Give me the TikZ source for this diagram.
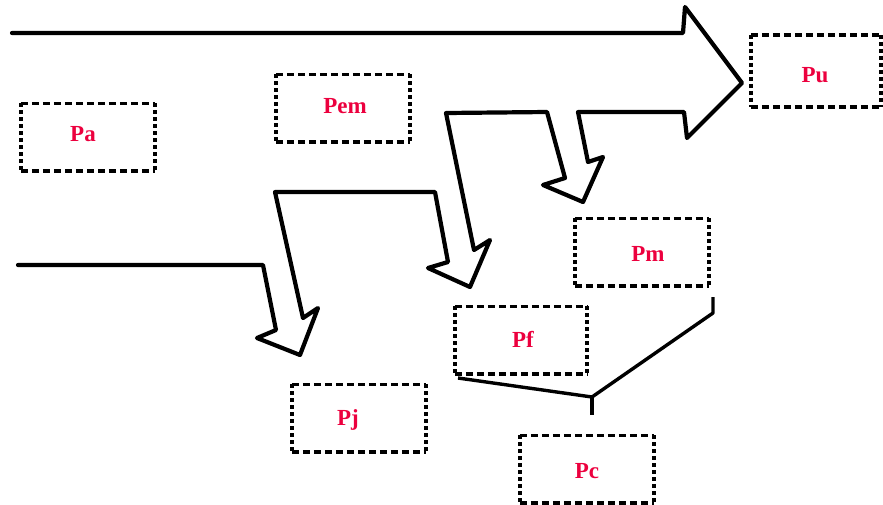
\documentclass[tikz,border=0pt]{standalone}
\usepackage{fontspec}
\setmainfont{Liberation Serif}
\definecolor{lblred}{RGB}{236,0,62}
\begin{document}
\begin{tikzpicture}[x=1pt,y=-1pt,
  box/.style={rectangle,draw=none,minimum width=134pt,minimum height=67pt,inner sep=0pt},
  lbl/.style={text=lblred,font=\bfseries\fontsize{23}{23}\selectfont,inner sep=0pt},
  hedge/.style={line width=3.6pt,dash pattern=on 7pt off 4pt},
  vedge/.style={line width=3.6pt,dash pattern=on 4pt off 3pt},
  flow/.style={line width=4.2pt,line join=round,line cap=round},
  bracket/.style={line width=3.4pt,line join=round}]
\useasboundingbox (0,0) rectangle (883,504);

% boxes
\node[box] (pa)  at (88,137)  {};
\node[box] (pem) at (343,108) {};
\node[box,minimum width=130pt,minimum height=72pt] (pu) at (816,71) {};
\node[box] (pm)  at (642,252) {};
\node[box,minimum width=132pt] (pf) at (521,340) {};
\node[box] (pj)  at (359,418) {};
\node[box] (pc)  at (587,469) {};

\foreach \n in {pa,pem,pu,pm,pf,pj,pc}{
  \draw[hedge] (\n.north west) -- (\n.north east) (\n.south west) -- (\n.south east);
  \draw[vedge] (\n.north west) -- (\n.south west) (\n.north east) -- (\n.south east);
}

% labels
\node[lbl] (pa-t)  at (83,134)  {Pa};
\node[lbl] (pem-t) at (345,106) {Pem};
\node[lbl] (pu-t)  at (815,75)  {Pu};
\node[lbl] (pm-t)  at (648,254) {Pm};
\node[lbl] (pf-t)  at (523,339) {Pf};
\node[lbl] (pj-t)  at (348,420) {Pj};
\node[lbl] (pc-t)  at (587,471) {Pc};

% branching flow outline
\draw[flow] (12,33) -- (683,33) -- (685,7) -- (742,83) -- (687,138) -- (684,112)
  -- (578,112) -- (588,162) -- (603,157) -- (583,202) -- (543,185) -- (565,178) -- (547,112)
  -- (446,113) -- (474,250) -- (490,240) -- (470,287) -- (428,268) -- (448,262) -- (435,192)
  -- (275,192) -- (303,318) -- (318,308) -- (300,355) -- (257,338) -- (276,330) -- (263,265)
  -- (18,265);

% bracket joining Pf and Pm into Pc
\coordinate (jn) at (592,397);
\coordinate (pfend) at (458,378);
\coordinate (pmend) at (713,297);
\draw[bracket] (pfend) -- (jn) -- (713,313) -- (pmend);
\draw[bracket] (jn) -- (592,415);
\end{tikzpicture}
\end{document}
